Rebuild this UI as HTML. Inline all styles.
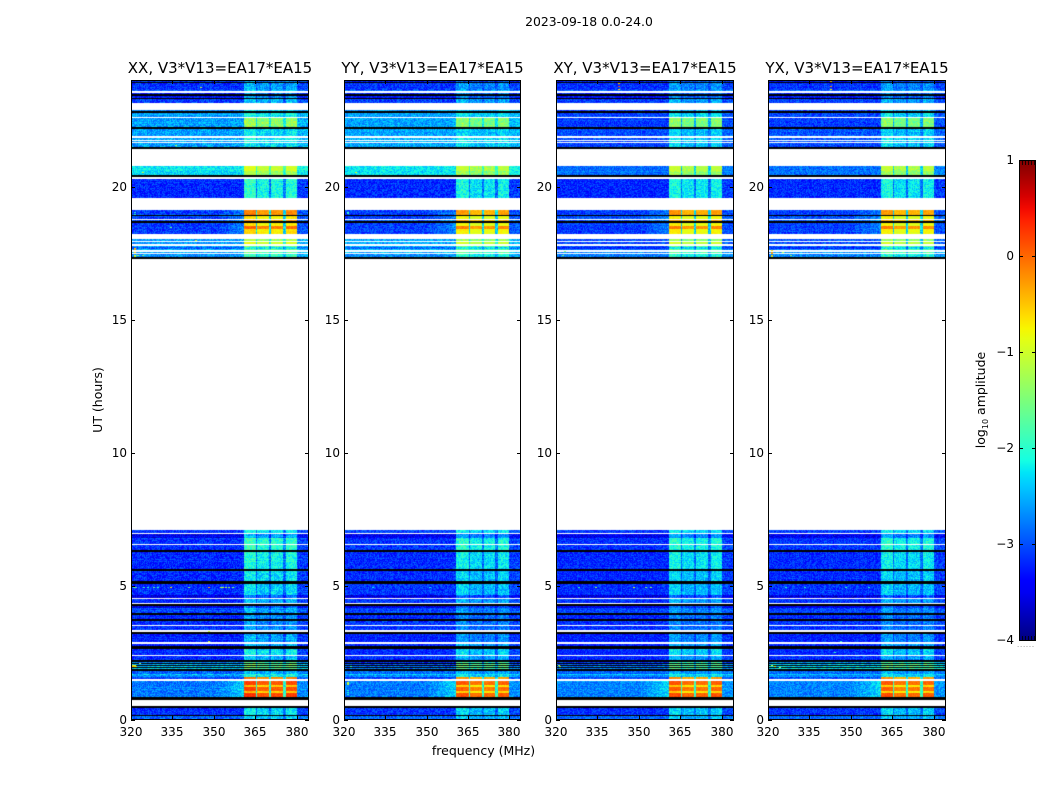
<!DOCTYPE html>
<html lang="en">
<head>
<meta charset="utf-8">
<title>2023-09-18 0.0-24.0</title>
<style>
html,body{margin:0;padding:0;background:#fff;}
#figure{position:relative;width:1050px;height:800px;overflow:hidden;background:#fff;font-family:"DejaVu Sans","Liberation Sans",sans-serif;color:#000;}
canvas{position:absolute;display:block;}
svg{position:absolute;left:0;top:0;}
svg text{font-family:"DejaVu Sans","Liberation Sans",sans-serif;fill:#000;}
</style>
</head>
<body>
<div id="figure">
<svg id="overlay" width="1050" height="800" viewBox="0 0 1050 800">
  <defs>
    <linearGradient id="jetGradient" x1="0" y1="1" x2="0" y2="0"></linearGradient>
  </defs>
  <text x="589" y="26" text-anchor="middle" font-size="12.4">2023-09-18 0.0-24.0</text>
  <text x="483.5" y="755" text-anchor="middle" font-size="12.5">frequency (MHz)</text>
  <text transform="translate(102,400) rotate(-90)" text-anchor="middle" font-size="12.5">UT (hours)</text>
  <text transform="translate(985,400) rotate(-90)" text-anchor="middle" font-size="12.5">log<tspan font-size="8" dy="3">10</tspan><tspan dy="-3"> amplitude</tspan></text>
  <g id="axesLayer"></g>
  <g id="colorbarLayer"></g>
</svg>
</div>
<script>
/* ---------- chart data (log10 amplitude) ---------- */
const panelTitles = ["XX, V3*V13=EA17*EA15", "YY, V3*V13=EA17*EA15", "XY, V3*V13=EA17*EA15", "YX, V3*V13=EA17*EA15"];
const freqTicks = [320, 335, 350, 365, 380];
const hourTicks = [0, 5, 10, 15, 20];
const colorTicks = [1, 0, -1, -2, -3, -4];
const windowStartsMHz = [360.6, 365.8, 370.8, 376.1];
const windowEndsMHz = [365.2, 370.0, 375.2, 380.0];
const windowOffsets = [0.12, -0.05, -0.02, 0.06];
const panelWindowGain = [0.12, -0.04, 0, -0.04];
const stripeBoost = [0.5, 0, 0.1, 0.55];
const FLAG = null, DEAD = -9;
/* each band: top hour, bottom hour, background, window level, cross-hand background, lead-in, stripe flag */
const upperBlockBands = [
  [24.00,23.97,DEAD],[23.97,23.91,-3.2,-2.9,-3.25],[23.91,23.87,DEAD],[23.87,23.61,-3.15,-2.7],[23.61,23.57,-2.9,-2.5],
  [23.57,23.52,FLAG],[23.52,23.46,-3.2,-2.8],[23.46,23.40,DEAD],[23.40,23.33,-3.3,-2.8],[23.33,23.27,DEAD],
  [23.27,23.13,-3.1,-2.6],[23.13,22.89,FLAG],[22.89,22.82,-2.7,-2.45,-3.1],
  [22.82,22.77,DEAD],[22.77,22.61,-2.6,-2.3,-3.05],[22.61,22.56,FLAG],[22.56,22.23,-2.6,-1.5,-3.1],
  [22.23,22.15,DEAD],[22.15,21.88,-2.6,-2.4,-3.0],[21.88,21.83,FLAG],[21.83,21.76,-2.55,-2.3,-3.0],
  [21.76,21.72,FLAG],[21.72,21.66,-2.55,-2.3,-3.0],[21.66,21.62,FLAG],[21.62,21.47,-2.6,-2.4,-3.05],
  [21.47,21.42,DEAD],[21.42,20.76,FLAG],[20.76,20.60,-2.25,-1.15,-2.85],[20.60,20.42,-2.3,-1.4,-2.85],
  [20.42,20.36,DEAD],[20.36,20.27,FLAG],[20.27,19.57,-3.2,-2.2],[19.57,19.11,FLAG],
  [19.11,18.92,-3.1,-0.35,-3.1,0.3],[18.92,18.88,DEAD],[18.88,18.78,-3.1,-0.85,-3.0,0.3],[18.78,18.75,FLAG],
  [18.75,18.71,-3.0,-0.4,-3.0,0.3],[18.71,18.64,DEAD],[18.64,18.52,-3.1,-0.85,-3.1,0.3],[18.52,18.40,-3.1,-0.2,-3.1,0.4],
  [18.40,18.23,-3.1,-0.8,-3.1,0.3],[18.23,18.02,FLAG],[18.02,17.97,-2.6,-1.4,-3.0],[17.97,17.92,FLAG],
  [17.92,17.83,-2.6,-1.05,-3.05],[17.83,17.78,FLAG],[17.78,17.73,-2.55,-1.7,-3.0],[17.73,17.67,-2.9,-2.3,-3.2],
  [17.67,17.61,-2.5,-1.8,-2.8],[17.61,17.56,FLAG],[17.56,17.52,-2.55,-1.8,-2.7],[17.52,17.48,FLAG],
  [17.48,17.35,-2.7,-2.1,-2.75],[17.35,17.30,DEAD]
];
const lowerBlockBands = [
  [7.10,7.00,-3.1,-2.3],[7.00,6.95,FLAG],[6.95,6.83,-3.5,-2.7],[6.83,6.60,-3.15,-2.1],
  [6.60,6.54,FLAG],[6.54,6.35,-3.15,-2.1],[6.35,6.28,DEAD],[6.28,5.66,-3.2,-2.25],
  [5.66,5.59,DEAD],[5.59,5.19,-3.2,-2.4],[5.19,5.10,DEAD],[5.10,4.66,-3.15,-2.45],
  [4.66,4.57,-3.6,-3.0],[4.57,4.52,FLAG],[4.52,4.37,-3.15,-2.6],[4.37,4.32,FLAG],
  [4.32,4.26,DEAD],[4.26,4.20,-3.5,-3.0],[4.20,4.01,-3.05,-2.7],[4.01,3.91,DEAD],[3.91,3.79,-3.2,-2.8],
  [3.79,3.69,DEAD],[3.69,3.53,-3.15,-2.8],[3.53,3.50,FLAG],[3.50,3.35,-3.15,-2.8],
  [3.35,3.28,FLAG],[3.28,3.20,DEAD],[3.20,2.91,-3.25,-2.7],[2.91,2.85,FLAG],
  [2.85,2.74,-3.25,-2.6],[2.74,2.66,DEAD],[2.66,2.41,-3.2,-2.35],[2.41,2.37,FLAG],
  [2.37,2.22,-3.2,-2.6],[2.22,2.17,DEAD],[2.17,2.13,-3.2,-1.9,undefined,0,1],[2.13,2.09,DEAD],
  [2.09,2.05,-3.0,-1.7,undefined,0,1],[2.05,2.01,DEAD],[2.01,1.97,-2.9,-1.7,undefined,0,1],[1.97,1.93,DEAD],
  [1.93,1.89,-2.8,-1.8,undefined,0,1],[1.89,1.81,DEAD],[1.81,1.72,-2.9,-2.6],
  [1.72,1.66,-2.4,-2.2],[1.66,1.59,-2.7,-2.3],[1.59,1.52,-3.1,-0.3,-3.0],[1.52,1.43,FLAG],
  [1.43,1.28,-2.8,0.0,-2.75,0.45],[1.28,1.21,-2.8,-0.65,-2.75,0.45],[1.21,1.06,-2.8,-0.05,-2.75,0.45],
  [1.06,0.98,-2.8,-0.65,-2.75,0.45],[0.98,0.84,-2.8,0.05,-2.75,0.45],[0.84,0.75,DEAD],[0.75,0.52,FLAG],
  [0.52,0.45,DEAD],[0.45,0.42,FLAG],[0.42,0.16,-3.15,-2.4],[0.16,0.12,DEAD],[0.12,0.00,-2.9,-2.5]
];
/* isolated bright samples per panel: hour, MHz, level */
const xxSpecks = [
  [4.98,320.8,-1.8],[4.98,321.6,-1.6],[4.98,324.4,-1.9],[4.98,325.8,-2.0],[4.98,328,-1.7],[4.98,329.5,-1.9],
  [4.98,334,-0.6],[4.98,340.7,-1.5],[4.98,348,-0.4],[4.98,352,-1.2],[4.98,353,-1.0],[4.98,354,-1.1],[4.98,355,-1.3],[4.98,356.5,-1.5],
  [2.05,320.4,-0.7],[2.05,321,-0.9],[2.01,320.4,-0.4],[2.01,321,-0.6],[2.01,321.6,-0.9],[2.13,323,-1.2],
  [17.70,321,-0.6],[17.65,321,-0.3],[17.55,321,-0.5],[17.45,321,-0.9],[17.40,321,-1.0],[17.42,324,-1.4],[17.45,322,-1.3],
  [19.05,321,-2.0],[18.98,321,-2.0],[23.75,345,-1.1],[20.55,324,-1.0],[21.55,336,-1.2],[18.5,334,-1.6],[17.99,343,-1.0],[3.33,348,-1.0],[2.95,348,-1.0]
];
const yySpecks = [
  [20.53,324,-0.9],[1.40,321,-1.0],[1.36,321,-1.0],[1.32,321,-1.1],[1.12,321,-2.0],[1.04,321,-2.0],[0.96,321,-2.0],
  [19.05,321,-1.9],[19.0,321,-1.9],[2.01,322,-1.9],[4.98,330,-2.2],[4.98,351,-2.2]
];
const xySpecks = [
  [23.90,342.4,-0.5],[23.77,342.4,0.1],[23.67,342.4,-0.7],
  [4.98,328,-1.9],[4.98,334,-1.4],[4.98,348,-1.0],[4.98,352,-1.5],[4.98,354,-1.4],
  [2.05,320.6,-1.2],[2.01,321,-1.3],[17.6,323,-1.4],[17.45,322,-1.5]
];
const yxSpecks = [
  [23.95,342.4,-0.5],[23.77,342.4,-0.2],[23.67,342.4,-0.7],
  [17.62,321,-0.7],[17.55,321,-0.2],[17.5,321,-0.3],[17.42,321,-0.6],[17.38,321,-1.0],[17.55,325,-1.3],[17.42,328,-1.3],
  [4.98,326,-2.0],[4.98,333,-2.0],[4.98,348,-1.9],[4.98,356,-2.0],[2.95,346,-1.9],[2.55,344,-1.9],
  [2.05,321,-0.9],[2.01,322,-1.0],[1.97,324,-1.2]
];
const panelSpecks = [xxSpecks, yySpecks, xySpecks, yxSpecks];
/* speckle residuals used to texture each sample */
const speckleResiduals = [
  -0.32,0.18,-0.12,0.41,-0.05,0.27,-0.38,0.09,0.33,-0.22,0.02,0.46,-0.17,-0.41,0.21,0.06,
  -0.28,0.37,-0.08,0.13,-0.35,0.52,-0.14,0.24,-0.02,-0.44,0.31,0.11,-0.25,0.16,0.39,-0.19,
  0.04,-0.36,0.28,-0.09,0.48,-0.3,0.14,-0.21,0.35,0.01,-0.43,0.22,-0.11,0.58,-0.27,0.07,
  -0.16,0.3,-0.39,0.19,-0.03,0.43,-0.24,0.12,-0.47,0.26,0.05,-0.13,0.36,-0.33,0.17,-0.06
];

/* ---------- layout and scales ---------- */
const panelLefts = [131, 344, 556, 768];
const panelRights = [308, 520, 733, 945];
const plotTop = 80, plotBottom = 719.5;
const freqMin = 320, freqMax = 384, hourMin = 0, hourMax = 24;
const cbarLeft = 1019, cbarRight = 1035, cbarTop = 160, cbarBottom = 640, levelMin = -4, levelMax = 1;
const SVGNS = "http://www.w3.org/2000/svg";
function xScale(f, p) { return (f - freqMin) / (freqMax - freqMin) * (panelRights[p] - panelLefts[p]); }
function yScale(h) { return plotBottom - (h - hourMin) / (hourMax - hourMin) * (plotBottom - plotTop); }
function cbarY(v) { return cbarBottom - (v - levelMin) / (levelMax - levelMin) * (cbarBottom - cbarTop); }
function ramp(t, pts) {
  for (let i = 1; i < pts.length; i++) {
    if (t <= pts[i][0]) return pts[i-1][1] + (pts[i][1] - pts[i-1][1]) * (t - pts[i-1][0]) / (pts[i][0] - pts[i-1][0]);
  }
  return pts[pts.length - 1][1];
}
function jet(v) {
  const t = Math.max(0, Math.min(1, (v - levelMin) / (levelMax - levelMin)));
  const r = ramp(t, [[0,0],[0.35,0],[0.66,1],[0.89,1],[1,0.5]]);
  const g = ramp(t, [[0,0],[0.125,0],[0.375,1],[0.64,1],[0.91,0],[1,0]]);
  const b = ramp(t, [[0,0.5],[0.11,1],[0.34,1],[0.65,0],[1,0]]);
  return "rgb(" + Math.round(r*255) + "," + Math.round(g*255) + "," + Math.round(b*255) + ")";
}
function cellLevel(f, band, panel) {
  let bg = (panel >= 2 && band[4] !== undefined) ? band[4] : band[2];
  if (band[6]) bg += stripeBoost[panel];
  const win = band[3] + panelWindowGain[panel], lead = band[5] || 0;
  for (let i = 0; i < windowStartsMHz.length; i++) {
    if (f >= windowStartsMHz[i] && f < windowEndsMHz[i]) return win + windowOffsets[i];
  }
  if (f >= windowStartsMHz[0] && f < windowEndsMHz[3]) return bg + (win - bg) * (win > -1.2 ? 0.3 : 0.35);
  if (f < windowStartsMHz[0]) return (lead && f > 350) ? bg + lead * (f - 350) / (windowStartsMHz[0] - 350) : bg;
  return bg + 0.1;
}

/* ---------- heatmap panels ---------- */
const figure = document.getElementById("figure");
const chanWidth = 0.36, timeStep = 0.0375;
panelLefts.forEach(function (left, p) {
  const w = panelRights[p] - left;
  const canvas = document.createElement("canvas");
  canvas.width = w;
  canvas.height = 640;
  canvas.style.left = left + "px";
  canvas.style.top = plotTop + "px";
  
  
  figure.insertBefore(canvas, figure.firstChild);
  const ctx = canvas.getContext("2d");
  ctx.fillStyle = "#fff";
  ctx.fillRect(0, 0, w, 640);
  let ti = 0;
  upperBlockBands.concat(lowerBlockBands).forEach(function (band) {
    const level = band[2];
    if (level === FLAG) return;
    const yTop = Math.round(yScale(band[0]) - plotTop);
    const yEnd = Math.round(yScale(band[1]) - plotTop);
    if (level === DEAD) {
      ctx.fillStyle = "#000";
      ctx.fillRect(0, yTop, w, Math.max(1, yEnd - yTop));
      return;
    }
    for (let h = band[0]; h > band[1] + 1e-6; h -= timeStep) {
      ti++;
      const y0 = Math.round(yScale(h) - plotTop);
      const y1 = Math.round(yScale(Math.max(band[1], h - timeStep)) - plotTop);
      if (y1 <= y0) continue;
      let ci = 0;
      for (let f = freqMin; f < freqMax; f += chanWidth, ci++) {
        const x0 = Math.round(xScale(f, p)), x1 = Math.round(xScale(f + chanWidth, p));
        if (x1 <= x0) continue;
        let v = cellLevel(f + chanWidth / 2, band, p);
        const idx = (ci * ci * 7 + ti * ti * 13 + ci * ti * 3 + p * 11 + ci * 5 + ti) & 63;
        v += speckleResiduals[idx] * (v > -1.2 ? 0.25 : 0.65);
        ctx.fillStyle = jet(v);
        ctx.fillRect(x0, y0, x1 - x0, y1 - y0);
      }
    }
  });
  panelSpecks[p].forEach(function (s) {
    ctx.fillStyle = jet(s[2]);
    ctx.fillRect(Math.round(xScale(s[1], p)), Math.round(yScale(s[0]) - plotTop), 2, 1);
  });
});

/* ---------- axes ---------- */
function svgEl(tag, attrs, parent) {
  const el = document.createElementNS(SVGNS, tag);
  Object.keys(attrs).forEach(function (k) { el.setAttribute(k, attrs[k]); });
  parent.appendChild(el);
  return el;
}
const axesLayer = document.getElementById("axesLayer");
const tickLen = 4, tickFont = 12;
panelLefts.forEach(function (left, p) {
  const right = panelRights[p];
  const tag = panelTitles[p].slice(0, 2).toLowerCase();
  const g = svgEl("g", {}, axesLayer);
  
  
  const title = svgEl("text", { x: (left + right) / 2 + 0.5, y: 73, "text-anchor": "middle", "font-size": 15 }, g);
  title.textContent = panelTitles[p];
  
  
  const frame = svgEl("rect", { x: left + 0.5, y: plotTop + 0.5, width: right - left, height: plotBottom - plotTop - 0.5, fill: "none", stroke: "#000", "stroke-width": 1 }, g);
  
  
  freqTicks.forEach(function (f) {
    const x = Math.round(left + xScale(f, p)) + 0.5;
    const bottomTick = svgEl("path", { d: "M" + x + " " + plotBottom + "v-" + tickLen + "M" + x + " " + plotTop + "v" + tickLen, stroke: "#000", "stroke-width": 1, fill: "none" }, g);
    
    
    const label = svgEl("text", { x: x - 0.5, y: 736, "text-anchor": "middle", "font-size": tickFont }, g);
    label.textContent = f;
    
    
  });
  hourTicks.forEach(function (h) {
    const y = Math.round(yScale(h)) + 0.5;
    const sideTick = svgEl("path", { d: "M" + left + " " + y + "h" + tickLen + "M" + (right + 1) + " " + y + "h-" + tickLen, stroke: "#000", "stroke-width": 1, fill: "none" }, g);
    
    
    const label = svgEl("text", { x: left - 4, y: y + 3.5, "text-anchor": "end", "font-size": tickFont }, g);
    label.textContent = h;
    
    
  });
});

/* ---------- colour bar ---------- */
const gradient = document.getElementById("jetGradient");
for (let i = 0; i <= 40; i++) {
  const stop = svgEl("stop", { offset: (i / 40 * 100) + "%", "stop-color": jet(levelMin + i / 40 * (levelMax - levelMin)) }, gradient);
  
  
}
const cbarLayer = document.getElementById("colorbarLayer");
const cbarBody = svgEl("rect", { x: cbarLeft + 0.5, y: cbarTop + 0.5, width: cbarRight - cbarLeft, height: cbarBottom - cbarTop, fill: "url(#jetGradient)", stroke: "#000", "stroke-width": 1 }, cbarLayer);


colorTicks.forEach(function (v) {
  const y = Math.round(cbarY(v)) + 0.5;
  const t = svgEl("path", { d: "M" + cbarLeft + " " + y + "h4M" + (cbarRight + 1) + " " + y + "h-4", stroke: "#000", "stroke-width": 1, fill: "none" }, cbarLayer);
  
  
  const label = svgEl("text", { x: cbarLeft - 5, y: y + 3.5, "text-anchor": "end", "font-size": tickFont }, cbarLayer);
  label.textContent = String(v).replace("-", "\u2212");
  
  
});
[0, 1, 2, 3, 4].forEach(function (i) {
  const x = cbarLeft + 3.5 + i * 3;
  const m = svgEl("path", { d: "M" + x + " " + cbarTop + "v5M" + x + " " + (cbarBottom + 1) + "v-5", stroke: "#000", "stroke-width": 0.8, fill: "none" }, cbarLayer);
  
  
});
const dots = svgEl("text", { x: cbarLeft - 2, y: 647, "font-size": 7, "letter-spacing": "0.75" }, cbarLayer);
dots.textContent = "......";
dots.style.fill = "#777";


</script>
</body>
</html>
